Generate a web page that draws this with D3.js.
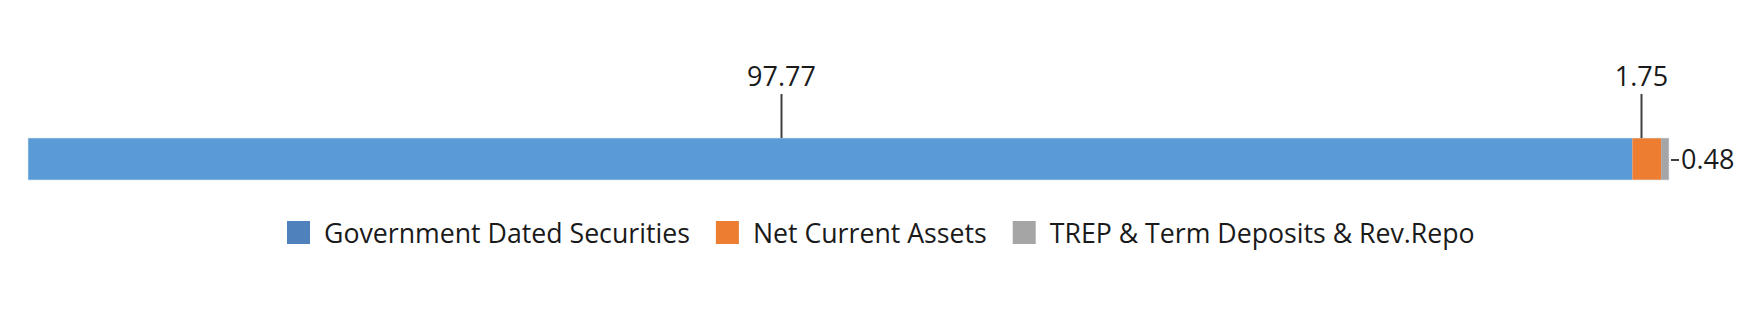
<!DOCTYPE html>
<html>
<head>
<meta charset="utf-8">
<script src="https://cdn.jsdelivr.net/npm/d3@7"></script>
<style>
  body { margin: 0; background: #fff; }
  svg text { font-family: "Open Sans", sans-serif; fill: #1a1a1a; }
</style>
</head>
<body>
<div id="chart"></div>
<script>
// data
var categories = ['Government Dated Securities', 'Net Current Assets', 'TREP & Term Deposits & Rev.Repo'];
var values = [97.77, 1.75, 0.48];
var labels = ['97.77', '1.75', '0.48'];

var barColors = ['#5b9bd5', '#ed7d31', '#a5a5a5'];
var legendColors = ['#4f81bd', '#ed7d31', '#a5a5a5'];
// where each data label sits: above the bar or to the right of it
var calloutSide = ['top', 'top', 'right'];
var calloutShift = [-49, -6, 0];

var width = 1762, height = 335;
var barTop = 138, barH = 42;

var svg = d3.select('#chart')
  .append('svg')
  .attr('width', width)
  .attr('height', height);

var starts = [0].concat(Array.from(d3.cumsum(values))).slice(0, values.length);

var x = d3.scaleLinear()
  .domain([0, d3.sum(values)])
  .range([28, 1669]);

var y = d3.scaleBand()
  .domain(['fund'])
  .range([barTop, barTop + barH]);

var segs = values.map(function(v, i) {
  return { cat: categories[i], start: starts[i], value: v, label: labels[i], side: calloutSide[i], shift: calloutShift[i], i: i };
});

svg.selectAll('rect.seg')
  .data(segs)
  .enter()
  .append('rect')
  .attr('class', 'seg')
  .attr('x', function(d) { return x(d.start); })
  .attr('y', y('fund'))
  .attr('width', function(d) { return x(d.start + d.value) - x(d.start); })
  .attr('height', y.bandwidth())
  .attr('fill', function(d) { return barColors[d.i]; });

// thin light edge round the bar
svg.append('rect')
  .attr('x', x(0)).attr('y', y('fund'))
  .attr('width', x(d3.sum(values)) - x(0))
  .attr('height', y.bandwidth())
  .attr('fill', 'none')
  .attr('stroke', '#dbe7f3')
  .attr('stroke-width', 1)
  .attr('opacity', 0.6);

// callouts
var aboveSegs = segs.filter(function(d) { return d.side === 'top'; });
var rightSegs = segs.filter(function(d) { return d.side === 'right'; });

function midX(d) { return Math.round(x(d.start + d.value / 2) + d.shift) + 0.5; }

svg.selectAll('line.top')
  .data(aboveSegs)
  .enter()
  .append('line')
  .attr('x1', midX).attr('x2', midX)
  .attr('y1', barTop).attr('y2', barTop - 44)
  .attr('stroke', '#404040')
  .attr('stroke-width', 2);

svg.selectAll('text.top')
  .data(aboveSegs)
  .enter()
  .append('text')
  .attr('x', midX)
  .attr('y', barTop - 52)
  .attr('text-anchor', 'middle')
  .style('font-size', '27px')
  .text(function(d) { return d.label; });

svg.selectAll('line.right')
  .data(rightSegs)
  .enter()
  .append('line')
  .attr('x1', function(d) { return x(d.start + d.value) + 2; })
  .attr('x2', function(d) { return x(d.start + d.value) + 10; })
  .attr('y1', barTop + barH / 2 + 1).attr('y2', barTop + barH / 2 + 1)
  .attr('stroke', '#404040')
  .attr('stroke-width', 2);

svg.selectAll('text.right')
  .data(rightSegs)
  .enter()
  .append('text')
  .attr('x', function(d) { return x(d.start + d.value) + 12; })
  .attr('y', barTop + barH / 2 + 10)
  .style('font-size', '27px')
  .text(function(d) { return d.label; });

// legend
var sq = 23, gapText = 14, gapItem = 26;
var legend = svg.append('g');
var items = legend.selectAll('g')
  .data(categories)
  .enter()
  .append('g');

items.append('rect')
  .attr('width', sq).attr('height', sq)
  .attr('y', 221)
  .attr('fill', function(d, i) { return legendColors[i]; });

items.append('text')
  .attr('y', 243)
  .style('font-size', '26.7px')
  .text(function(d) { return d; });

var cursor = 0;
items.each(function() {
  var g = d3.select(this);
  var w = g.select('text').node().getComputedTextLength();
  g.select('rect').attr('x', cursor);
  g.select('text').attr('x', cursor + sq + gapText);
  cursor += sq + gapText + w + gapItem;
});
var legendW = cursor - gapItem;
legend.attr('transform', 'translate(' + Math.round(width / 2 - legendW / 2) + ',0)');
</script>
</body>
</html>
